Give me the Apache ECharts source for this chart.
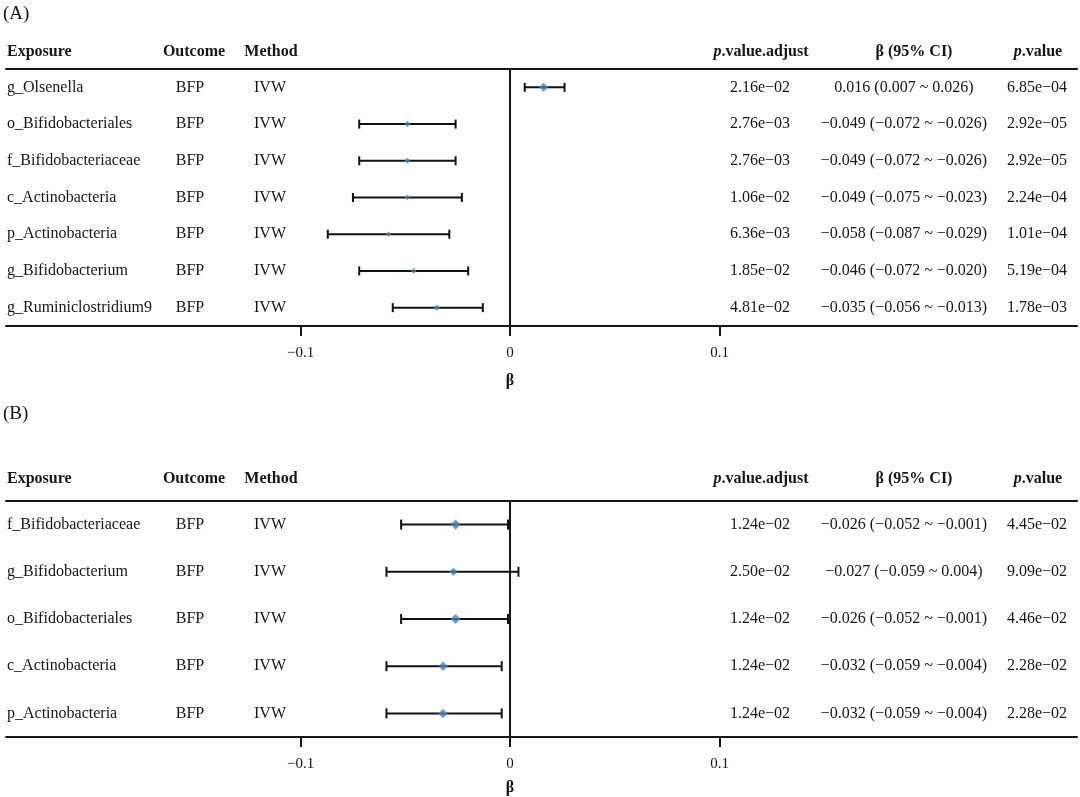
<!DOCTYPE html>
<html>
<head>
<meta charset="utf-8">
<script src="https://cdn.jsdelivr.net/npm/echarts@6/dist/echarts.min.js"></script>
<style>html,body{margin:0;padding:0;background:#fff}#c{width:1080px;height:797px}</style>
</head>
<body>
<div id="c"></div>
<script>
// ---------- Data ----------
const exposureA = ['g_Olsenella','o_Bifidobacteriales','f_Bifidobacteriaceae','c_Actinobacteria','p_Actinobacteria','g_Bifidobacterium','g_Ruminiclostridium9'];
const outcomeA = ['BFP','BFP','BFP','BFP','BFP','BFP','BFP'];
const methodA = ['IVW','IVW','IVW','IVW','IVW','IVW','IVW'];
const betaA = [0.016,-0.049,-0.049,-0.049,-0.058,-0.046,-0.035];
const lowA  = [0.007,-0.072,-0.072,-0.075,-0.087,-0.072,-0.056];
const highA = [0.026,-0.026,-0.026,-0.023,-0.029,-0.020,-0.013];
const padjA = ['2.16e−02','2.76e−03','2.76e−03','1.06e−02','6.36e−03','1.85e−02','4.81e−02'];
const pA    = ['6.85e−04','2.92e−05','2.92e−05','2.24e−04','1.01e−04','5.19e−04','1.78e−03'];

const exposureB = ['f_Bifidobacteriaceae','g_Bifidobacterium','o_Bifidobacteriales','c_Actinobacteria','p_Actinobacteria'];
const outcomeB = ['BFP','BFP','BFP','BFP','BFP'];
const methodB = ['IVW','IVW','IVW','IVW','IVW'];
const betaB = [-0.026,-0.027,-0.026,-0.032,-0.032];
const lowB  = [-0.052,-0.059,-0.052,-0.059,-0.059];
const highB = [-0.001,0.004,-0.001,-0.004,-0.004];
const padjB = ['1.24e−02','2.50e−02','1.24e−02','1.24e−02','1.24e−02'];
const pB    = ['4.45e−02','9.09e−02','4.46e−02','2.28e−02','2.28e−02'];

const xTicks = [-0.1, 0, 0.1];
const headers = ['Exposure','Outcome','Method','p.value.adjust','β (95% CI)','p.value'];
const axisTitle = 'β';

// ---------- Helpers ----------
const FONT = '"Liberation Serif","Times New Roman",serif';
const INK = '#161616';
const fmt = v => (v < 0 ? '−' : '') + Math.abs(v).toFixed(3);
const ciText = (b, l, h) => b.map((v, i) => fmt(v) + ' (' + fmt(l[i]) + ' ~ ' + fmt(h[i]) + ')');

const X_MIN = -0.2406, X_MAX = 0.2706;
const GRID_LEFT = 6, GRID_RIGHT = 3;

const panels = [
  { exp: exposureA, out: outcomeA, met: methodA, beta: betaA, low: lowA, high: highA, padj: padjA, p: pA,
    top: 69, height: 257, headerY: 52, labelY: 14, label: '(A)', nameY: 381, cap: 9,
    size: (l, h) => Math.min(9, 3.8 + 0.1 / (h - l)) },
  { exp: exposureB, out: outcomeB, met: methodB, beta: betaB, low: lowB, high: highB, padj: padjB, p: pB,
    top: 501, height: 236, headerY: 479, labelY: 414, label: '(B)', nameY: 788, cap: 10,
    size: (l, h) => 0.52 / (h - l) }
];

// column layout (pixels)
const cols = [
  { x: 7, align: 'left' },
  { x: 190, align: 'center' },
  { x: 270, align: 'center' },
  { x: 760, align: 'center' },
  { x: 904, align: 'center' },
  { x: 1037, align: 'center' }
];
const headerX = [7, 194, 271, 761, 914, 1038];

const grid = [], xAxis = [], yAxis = [], series = [], graphic = [];

panels.forEach((P, gi) => {
  grid.push({ left: GRID_LEFT, right: GRID_RIGHT, top: P.top, height: P.height, containLabel: false });
  xAxis.push({
    type: 'value', gridIndex: gi, min: X_MIN, max: X_MAX, position: 'bottom',
    splitLine: { show: false },
    axisLine: { show: true, onZero: false, lineStyle: { color: INK, width: 2 } },
    axisTick: { show: true, customValues: xTicks, length: 10, lineStyle: { color: INK, width: 2 } },
    axisLabel: { show: true, customValues: xTicks, margin: 20, fontFamily: FONT, fontSize: 15, color: INK,
      formatter: v => (v < 0 ? '−' : '') + String(Math.abs(Math.round(v * 10) / 10)) }
  });
  xAxis.push({
    type: 'value', gridIndex: gi, min: X_MIN, max: X_MAX, position: 'top',
    splitLine: { show: false }, axisTick: { show: false }, axisLabel: { show: false },
    axisLine: { show: true, onZero: false, lineStyle: { color: INK, width: 2 } }
  });
  yAxis.push({
    type: 'category', gridIndex: gi, data: P.exp, inverse: true, boundaryGap: true,
    axisLine: { show: false }, axisTick: { show: false }, axisLabel: { show: false }, splitLine: { show: false }
  });

  const xi = gi * 2;
  const ci = ciText(P.beta, P.low, P.high);
  const colData = [P.exp, P.out, P.met, P.padj, ci, P.p];

  series.push({
    type: 'custom', xAxisIndex: xi, yAxisIndex: gi, silent: true, clip: false,
    data: P.exp.map((_, i) => [0, i]),
    encode: { x: 0, y: 1 },
    renderItem: (params, api) => {
      const i = api.value(1);
      const y = api.coord([0, i])[1];
      return {
        type: 'group',
        children: cols.map((c, k) => ({
          type: 'text',
          style: { text: colData[k][i], x: c.x, y: y, align: c.align, verticalAlign: 'middle',
            fontFamily: FONT, fontSize: 16, fill: INK }
        }))
      };
    }
  });
  series.push({
    type: 'custom', xAxisIndex: xi, yAxisIndex: gi, silent: true,
    data: P.exp.map((_, i) => [P.low[i], P.high[i], i]),
    encode: { x: [0, 1], y: 2 },
    renderItem: (params, api) => {
      const a = api.coord([api.value(0), api.value(2)]);
      const b = api.coord([api.value(1), api.value(2)]);
      const h = P.cap / 2;
      const st = { stroke: '#111', lineWidth: 2 };
      return {
        type: 'group',
        children: [
          { type: 'line', shape: { x1: a[0], y1: a[1], x2: b[0], y2: b[1] }, style: st },
          { type: 'line', shape: { x1: a[0], y1: a[1] - h, x2: a[0], y2: a[1] + h }, style: st },
          { type: 'line', shape: { x1: b[0], y1: b[1] - h, x2: b[0], y2: b[1] + h }, style: st }
        ]
      };
    }
  });
  series.push({
    type: 'scatter', xAxisIndex: xi, yAxisIndex: gi, silent: true, z: 5,
    symbol: 'diamond',
    data: P.beta.map((v, i) => [v, i]),
    symbolSize: (val, params) => P.size(P.low[params.dataIndex], P.high[params.dataIndex]),
    itemStyle: { color: '#4682B4' },
    markLine: {
      silent: true, symbol: 'none', label: { show: false }, animation: false,
      lineStyle: { color: INK, width: 2, type: 'solid' },
      data: [{ xAxis: 0 }]
    }
  });

  graphic.push({ type: 'text', x: 3, y: P.labelY,
    style: { text: P.label, fontFamily: FONT, fontSize: 19, fill: INK, align: 'left', verticalAlign: 'middle' } });
  headers.forEach((t, k) => {
    let txt = t, rich = null;
    const base = { fontFamily: FONT, fontSize: 16, fontWeight: 'bold', fill: INK };
    if (t.startsWith('p.')) {
      txt = '{i|p}{b|' + t.slice(1) + '}';
      rich = { i: Object.assign({}, base, { fontStyle: 'italic' }), b: Object.assign({}, base) };
    }
    graphic.push({
      type: 'text', x: headerX[k], y: P.headerY,
      style: Object.assign({ text: txt, align: k === 0 ? 'left' : 'center', verticalAlign: 'middle' }, base, rich ? { rich } : {})
    });
  });
});

const chart = echarts.init(document.getElementById('c'), null, { renderer: 'canvas' });
chart.setOption({
  backgroundColor: '#fff',
  animation: false,
  grid, xAxis, yAxis, series, graphic
});

// axis titles centred on x = 0 of each panel, placed through the axis scale
panels.forEach((P, gi) => {
  const x0 = chart.convertToPixel({ xAxisIndex: gi * 2 }, 0);
  graphic.push({ type: 'text', x: x0, y: P.nameY,
    style: { text: axisTitle, fontFamily: FONT, fontSize: 16, fontWeight: 'bold', fill: INK,
      align: 'center', verticalAlign: 'middle' } });
});
chart.setOption({ graphic });
</script>
</body>
</html>
